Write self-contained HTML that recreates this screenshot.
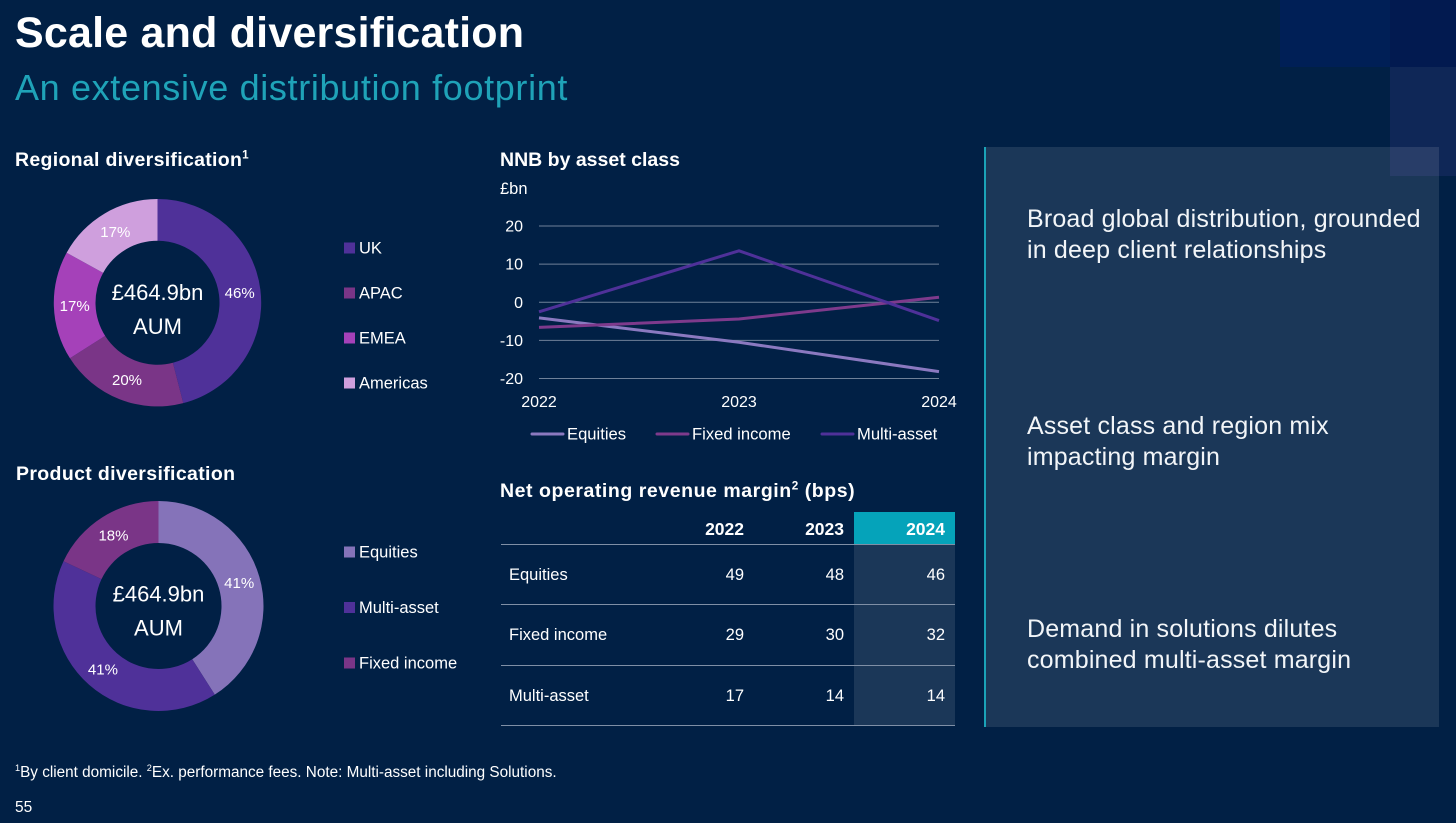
<!DOCTYPE html>
<html lang="en">
<head>
<meta charset="utf-8">
<title>Scale and diversification</title>
<style>
html,body{margin:0;padding:0;background:#012045;}
#slide{position:relative;width:1456px;height:823px;overflow:hidden;background:#012045;color:#fff;font-family:"Liberation Sans",sans-serif;}
.abs{position:absolute;white-space:nowrap;}
.h{font-weight:bold;font-size:19.5px;line-height:24px;}
.point{font-size:25px;line-height:31px;color:#f2f5f8;letter-spacing:.17px;}
.tb{font-size:16.5px;line-height:20px;}
.th{font-size:17.5px;font-weight:bold;}
.r{text-align:right;width:50px;}
.ln{position:absolute;left:501px;width:454px;height:1px;background:#7f8fa6;}
sup{font-size:60%;line-height:0;}
svg{position:absolute;left:0;top:0;}
</style>
</head>
<body>
<div id="slide">
  <div class="abs" style="left:1280px;top:0;width:110px;height:67px;background:#001f56"></div>
  <div class="abs" style="left:1390px;top:0;width:66px;height:67px;background:#021a50"></div>
  <div class="abs" style="left:1390px;top:67px;width:66px;height:109px;background:#0f2757"></div>
  <div class="abs" style="left:985px;top:147px;width:454px;height:580px;background:rgba(255,255,255,0.105);"></div>
  <div class="abs" style="left:984px;top:147px;width:2px;height:580px;background:#1ba3b8"></div>

  <div class="abs" style="left:15px;top:7px;font-size:43px;line-height:52px;font-weight:bold;letter-spacing:.2px;">Scale and diversification</div>
  <div class="abs" style="left:15px;top:66px;font-size:36px;line-height:44px;color:#1fa3b8;letter-spacing:.65px;">An extensive distribution footprint</div>

  <div class="abs h" style="left:15px;top:148px;letter-spacing:.3px;">Regional diversification<sup>1</sup></div>
  <div class="abs h" style="left:16px;top:462px;letter-spacing:.35px;">Product diversification</div>
  <div class="abs h" style="left:500px;top:148px;">NNB by asset class</div>
  <div class="abs h" style="left:500px;top:479px;letter-spacing:.55px;">Net operating revenue margin<sup>2</sup> (bps)</div>

  <svg id="chart" width="1456" height="823" viewBox="0 0 1456 823"></svg>

  <div class="abs" style="left:854px;top:512px;width:101px;height:32px;background:#05a3ba"></div>
  <div class="abs" style="left:854px;top:544px;width:101px;height:181px;background:rgba(255,255,255,0.105)"></div>
  <div class="ln" style="top:543.5px"></div>
  <div class="ln" style="top:604px"></div>
  <div class="ln" style="top:665px"></div>
  <div class="ln" style="top:725px"></div>

  <div class="abs tb th r" style="left:694px;top:519px">2022</div>
  <div class="abs tb th r" style="left:794px;top:519px">2023</div>
  <div class="abs tb th r" style="left:895px;top:519px">2024</div>

  <div class="abs tb" style="left:509px;top:565px">Equities</div>
  <div class="abs tb r" style="left:694px;top:565px">49</div>
  <div class="abs tb r" style="left:794px;top:565px">48</div>
  <div class="abs tb r" style="left:895px;top:565px">46</div>

  <div class="abs tb" style="left:509px;top:625px">Fixed income</div>
  <div class="abs tb r" style="left:694px;top:625px">29</div>
  <div class="abs tb r" style="left:794px;top:625px">30</div>
  <div class="abs tb r" style="left:895px;top:625px">32</div>

  <div class="abs tb" style="left:509px;top:686px">Multi-asset</div>
  <div class="abs tb r" style="left:694px;top:686px">17</div>
  <div class="abs tb r" style="left:794px;top:686px">14</div>
  <div class="abs tb r" style="left:895px;top:686px">14</div>

  <div class="abs point" style="left:1027px;top:204px">Broad global distribution, grounded<br>in deep client relationships</div>
  <div class="abs point" style="left:1027px;top:411px">Asset class and region mix<br>impacting margin</div>
  <div class="abs point" style="left:1027px;top:614px">Demand in solutions dilutes<br>combined multi-asset margin</div>

  <div class="abs" style="left:15px;top:764px;font-size:15.3px;line-height:18px"><sup>1</sup>By client domicile. <sup>2</sup>Ex. performance fees. Note: Multi-asset including Solutions.</div>
  <div class="abs" style="left:15px;top:799px;font-size:15.5px;line-height:18px">55</div>
</div>

<script>
const regionCategories = ['UK', 'APAC', 'EMEA', 'Americas'];
const regionValues = [46, 20, 17, 17];
const productCategories = ['Equities', 'Multi-asset', 'Fixed income'];
const productValues = [41, 41, 18];
const nnbYears = ['2022', '2023', '2024'];
const nnbTicks = [20, 10, 0, -10, -20];
const nnbEquities = [-4.1, -10.5, -18.2];
const nnbFixedIncome = [-6.6, -4.4, 1.3];
const nnbMultiAsset = [-2.5, 13.5, -4.8];

const NS = 'http://www.w3.org/2000/svg';
const svg = document.getElementById('chart');
const FONT = '"Liberation Sans", sans-serif';

function make(tag, attrs, text) {
  const el = document.createElementNS(NS, tag);
  for (const k in attrs) el.setAttribute(k, attrs[k]);
  if (text !== undefined) el.textContent = text;
  svg.appendChild(el);
  return el;
}

function label(x, y, str, size, anchor) {
  return make('text', {x: x, y: y, fill: '#fff', 'font-size': size, 'font-family': FONT, 'text-anchor': anchor}, str);
}

function polar(cx, cy, r, frac) {
  const a = frac * 2 * Math.PI;
  return [cx + r * Math.sin(a), cy - r * Math.cos(a)];
}

function slicePath(cx, cy, r0, r1, f0, f1) {
  const large = f1 - f0 > 0.5 ? 1 : 0;
  const a = polar(cx, cy, r1, f0), b = polar(cx, cy, r1, f1);
  const c = polar(cx, cy, r0, f1), d = polar(cx, cy, r0, f0);
  return 'M' + a + 'A' + r1 + ' ' + r1 + ' 0 ' + large + ' 1 ' + b +
         'L' + c + 'A' + r0 + ' ' + r0 + ' 0 ' + large + ' 0 ' + d + 'Z';
}

function donut(cx, cy, r0, r1, cats, vals, colors, legendX, legendY0, legendStep, prefix, centerY) {
  const total = vals.reduce((s, v) => s + v, 0);
  let run = 0;
  vals.forEach((v, i) => {
    const f0 = run / total;
    const f1 = (run + v) / total;
    run += v;
    const slice = make('path', {d: slicePath(cx, cy, r0, r1, f0, f1), fill: colors[i]});
    
    
    const p = polar(cx, cy, (r0 + r1) / 2, (f0 + f1) / 2);
    const val = label(p[0], p[1] + 5.5, v + '%', 15, 'middle');
    
    
    const ly = legendY0 + i * legendStep;
    const sw = make('rect', {x: legendX, y: ly - 5.5, width: 11, height: 11, fill: colors[i]});
    
    
    const lt = label(legendX + 15, ly + 5.5, cats[i], 16.5, 'start');
    
    
  });
  const c1 = label(cx, centerY, '£464.9bn', 22, 'middle');
  
  
  const c2 = label(cx, centerY + 34, 'AUM', 22, 'middle');
  
  
}

donut(157.5, 302.7, 62, 103.7, regionCategories, regionValues,
  ['#4f3199', '#7a3587', '#a541b9', '#cf9fdd'], 344, 248, 45, 'region', 300);
donut(158.5, 606, 63, 105, productCategories, productValues,
  ['#8573b9', '#4f3199', '#7a3587'], 344, 552, 55.5, 'product', 601.5);

/* line chart */
const xLeft = 539, xRight = 939, yTop = 226, yBottom = 378.5, vTop = 20, vBottom = -20;
function xScale(i) { return xLeft + i * (xRight - xLeft) / (nnbYears.length - 1); }
function yScale(v) { return yTop + (vTop - v) * (yBottom - yTop) / (vTop - vBottom); }

const unit = label(500, 194, '£bn', 16.5, 'start');



nnbTicks.forEach(t => {
  const g = make('line', {x1: xLeft, x2: xRight, y1: yScale(t), y2: yScale(t), stroke: '#6f8199', 'stroke-width': 1});
  
  
  const tl = label(523, yScale(t) + 5.5, String(t), 16, 'end');
  
  
});

nnbYears.forEach((y, i) => {
  const tl = label(xScale(i), 407, y, 16, 'middle');
  
  
});

function series(vals, color, name) {
  const pts = vals.map((v, i) => xScale(i) + ',' + yScale(v)).join(' ');
  const l = make('polyline', {points: pts, fill: 'none', stroke: color, 'stroke-width': 3, 'stroke-linejoin': 'round'});
  
  
}
series(nnbEquities, '#8b79c0', 'line-equities');
series(nnbFixedIncome, '#7e3a8c', 'line-fixed-income');
series(nnbMultiAsset, '#4f3199', 'line-multi-asset');

function legendEntry(x0, x1, textX, str, color, name) {
  const k = make('line', {x1: x0, x2: x1, y1: 434, y2: 434, stroke: color, 'stroke-width': 3, 'stroke-linecap': 'round'});
  
  
  const t = label(textX, 439.5, str, 16.6, 'start');
  
  
}
legendEntry(532, 563, 567, 'Equities', '#8b79c0', 'legend-equities');
legendEntry(657, 688, 692, 'Fixed income', '#7e3a8c', 'legend-fixed-income');
legendEntry(822, 853, 857, 'Multi-asset', '#4f3199', 'legend-multi-asset');
</script>
</body>
</html>
